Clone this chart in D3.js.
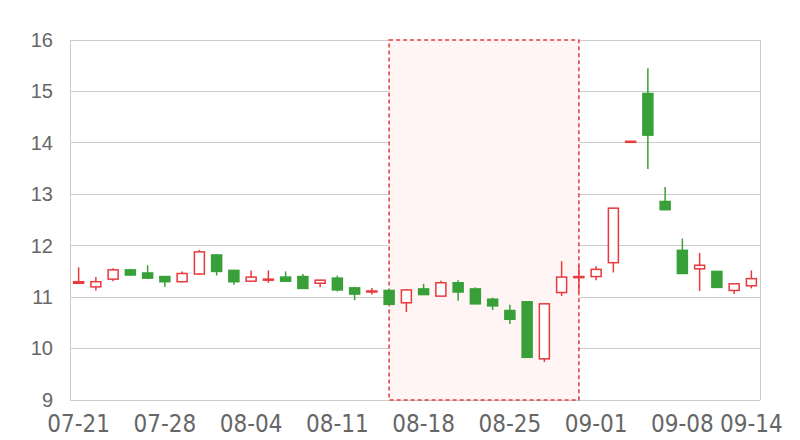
<!DOCTYPE html>
<html>
<head>
<meta charset="utf-8">
<script src="https://cdn.jsdelivr.net/npm/d3@7"></script>
<style>
  html, body { margin: 0; padding: 0; background: #fff; }
  svg { display: block; }
</style>
</head>
<body>
<svg id="chart" width="800" height="440"></svg>
<script>
const dates = ["07-21","07-22","07-23","07-24","07-27","07-28","07-29","07-30","07-31",
  "08-03","08-04","08-05","08-06","08-07","08-10","08-11","08-12","08-13","08-14",
  "08-17","08-18","08-19","08-20","08-21","08-24","08-25","08-26","08-27","08-28",
  "08-31","09-01","09-02","09-03","09-04","09-07","09-08","09-09","09-10","09-11","09-14"];
const openV  = [11.27,11.20,11.35,11.53,11.47,11.40,11.30,11.45,11.82,11.52,11.31,11.33,11.39,11.40,11.27,11.37,11.18,11.10,11.13,10.89,11.16,11.02,11.28,11.16,10.96,10.74,10.91,9.80,11.09,11.38,11.40,11.67,14.02,14.96,12.86,11.91,11.55,11.50,11.13,11.22];
const closeV = [11.30,11.30,11.53,11.43,11.37,11.30,11.46,11.88,11.50,11.30,11.39,11.35,11.31,11.17,11.33,11.14,11.06,11.12,10.86,11.14,11.05,11.28,11.10,10.87,10.83,10.57,9.83,10.87,11.39,11.40,11.54,12.73,14.03,14.15,12.70,11.46,11.62,11.19,11.26,11.36];
const highV  = [11.58,11.39,11.56,11.55,11.62,11.41,11.50,11.92,11.83,11.53,11.52,11.52,11.50,11.45,11.34,11.42,11.20,11.18,11.16,11.15,11.26,11.32,11.33,11.19,10.99,10.85,10.92,10.88,11.70,11.62,11.60,12.74,14.03,15.45,13.14,12.14,11.86,11.50,11.27,11.52];
const lowV   = [11.26,11.13,11.31,11.41,11.35,11.20,11.29,11.43,11.42,11.24,11.30,11.28,11.30,11.17,11.19,11.11,10.94,11.05,10.85,10.71,11.05,11.02,10.93,10.86,10.75,10.48,9.82,9.74,11.02,11.10,11.33,11.48,14.02,13.49,12.70,11.46,11.12,11.19,11.06,11.17];
const yTicks = [9,10,11,12,13,14,15,16];
const xTickLabels = ["07-21","07-28","08-04","08-11","08-18","08-25","09-01","09-08","09-14"];
const highlightFrom = "08-14", highlightTo = "08-31";

const RED = "#e8393d", GREEN = "#39a039";
const svg = d3.select("#chart");
const L = 70, R = 760, T = 40, B = 400;

const x = d3.scaleBand().domain(dates).range([L, R]).padding(0);
const y = d3.scaleLinear().domain([9, 16]).range([B, T]);
const cx = d => x(d) + x.bandwidth() / 2;

// gridlines
svg.append("g").selectAll("line").data(yTicks).join("line")
  .attr("x1", L).attr("x2", R)
  .attr("y1", d => y(d)).attr("y2", d => y(d))
  .attr("stroke", "#cccccc").attr("stroke-width", 1)
  .attr("shape-rendering", "crispEdges");
// left and right borders
svg.append("line").attr("x1", L).attr("x2", L).attr("y1", T).attr("y2", B)
  .attr("stroke", "#cccccc").attr("shape-rendering", "crispEdges");
svg.append("line").attr("x1", R).attr("x2", R).attr("y1", T).attr("y2", B)
  .attr("stroke", "#cccccc").attr("shape-rendering", "crispEdges");

// y axis labels
const yAxis = d3.axisLeft(y).tickValues(yTicks).tickFormat(d3.format("d")).tickSize(0).tickPadding(17);
const gy = svg.append("g").attr("transform", `translate(${L},0)`).call(yAxis);
gy.select(".domain").remove();
gy.selectAll("text").attr("font-family", "'Liberation Sans', Arial, sans-serif")
  .attr("font-size", 20).attr("fill", "#666666");

// x axis labels
const xAxis = d3.axisBottom(x).tickValues(xTickLabels).tickSize(0).tickPadding(15);
const gx = svg.append("g").attr("transform", `translate(0,${B})`).call(xAxis);
gx.select(".domain").remove();
gx.selectAll("text").attr("font-family", "'Liberation Sans Narrow', 'DejaVu Sans Condensed', sans-serif")
  .attr("font-size", 24).attr("fill", "#666666");

// highlight rect
svg.append("rect")
  .attr("x", cx(highlightFrom)).attr("y", T)
  .attr("width", cx(highlightTo) - cx(highlightFrom)).attr("height", B - T)
  .attr("fill", "#fff5f5").attr("stroke", RED).attr("stroke-width", 1.5)
  .attr("stroke-dasharray", "4,3");

// candles
const data = dates.map((d, i) => ({ d, o: openV[i], c: closeV[i], h: highV[i], l: lowV[i] }));
const bw = 10;
const g = svg.append("g");
const cg = g.selectAll("g").data(data).join("g");
cg.append("line")
  .attr("x1", d => cx(d.d)).attr("x2", d => cx(d.d))
  .attr("y1", d => y(d.h)).attr("y2", d => y(d.l))
  .attr("stroke", d => d.c >= d.o ? RED : GREEN).attr("stroke-width", 1.5);
cg.append("rect")
  .attr("x", d => cx(d.d) - bw / 2)
  .attr("y", d => y(Math.max(d.o, d.c)))
  .attr("width", bw)
  .attr("height", d => Math.max(1, Math.abs(y(d.o) - y(d.c))))
  .attr("fill", d => d.c >= d.o ? "#ffffff" : GREEN)
  .attr("stroke", d => d.c >= d.o ? RED : GREEN)
  .attr("stroke-width", 1.5);
</script>
</body>
</html>
